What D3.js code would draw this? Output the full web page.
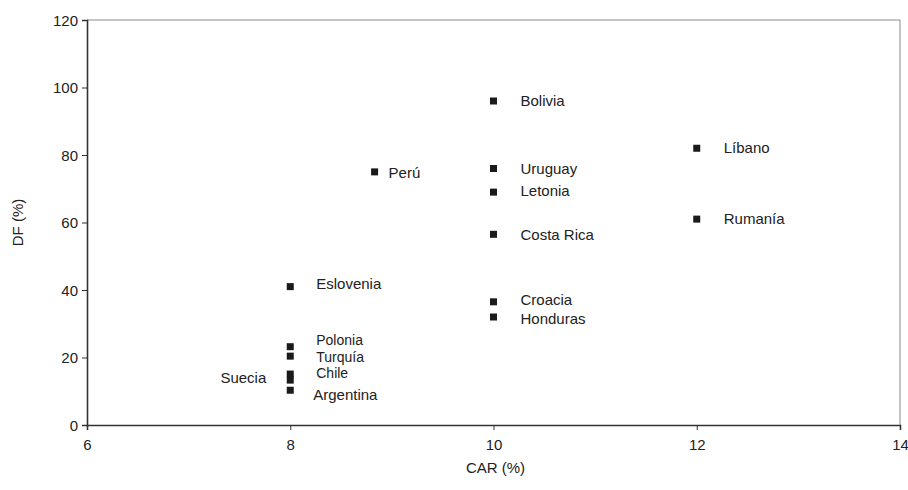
<!DOCTYPE html>
<html>
<head>
<meta charset="utf-8">
<script src="https://cdn.jsdelivr.net/npm/d3@7"></script>
<style>
  html, body { margin: 0; padding: 0; background: #fff; }
  svg { display: block; font-family: "Liberation Sans", Arial, sans-serif; }
</style>
</head>
<body>
<svg id="chart" width="908" height="490"></svg>
<script>
// ---- Data ----
const countries = ["Bolivia", "Líbano", "Perú", "Uruguay", "Letonia", "Costa Rica", "Rumanía",
  "Eslovenia", "Croacia", "Honduras", "Polonia", "Turquía", "Chile", "Suecia", "Argentina"];
const carValues = [10, 12, 8.83, 10, 10, 10, 12, 8, 10, 10, 8, 8, 8, 8, 8];
const dfValues  = [96, 82, 75, 76, 69, 56.5, 61, 41, 36.5, 32, 23.2, 20.4, 15.1, 13.3, 10.3];
const xTicks = [6, 8, 10, 12, 14];
const yTicks = [0, 20, 40, 60, 80, 100, 120];
const xTitle = "CAR (%)";
const yTitle = "DF (%)";

// ---- Label layout (pixel offsets from marker) ----
const labelDx = [27, 27, 14, 27, 27, 27, 27, 26, 27, 27, 26, 26, 26, -24, 23];
const labelDy = [0, -1, 1, 0, -1, 0, 0, -3, -2, 2, -7, 1, -1, -2, 5];
const compactLabels = ["Polonia", "Turquía", "Chile"];

// ---- Layout ----
const svg = d3.select("#chart");
const mLeft = 87, mRight = 900, mTop = 20, mBottom = 425;

const x = d3.scaleLinear().domain([6, 14]).range([mLeft, mRight]);
const y = d3.scaleLinear().domain([0, 120]).range([mBottom, mTop]);

// Frame top/right
svg.append("line").attr("x1", mLeft).attr("x2", mRight).attr("y1", mTop).attr("y2", mTop)
  .attr("stroke", "#8a8a8a").attr("stroke-width", 1);
svg.append("line").attr("x1", mRight).attr("x2", mRight).attr("y1", mTop).attr("y2", mBottom)
  .attr("stroke", "#8a8a8a").attr("stroke-width", 1);

// Axes
const xAxis = d3.axisBottom(x).tickValues(xTicks).tickFormat(d3.format("d")).tickSize(5).tickPadding(6);
const yAxis = d3.axisLeft(y).tickValues(yTicks).tickFormat(d3.format("d")).tickSize(5).tickPadding(4);

const gx = svg.append("g").attr("transform", `translate(0,${mBottom})`).call(xAxis);
const gy = svg.append("g").attr("transform", `translate(${mLeft},0)`).call(yAxis);

[gx, gy].forEach(g => {
  g.select(".domain").attr("stroke", "#333").attr("stroke-width", 1.6);
  g.selectAll(".tick line").attr("stroke", "#333").attr("stroke-width", 1);
  g.selectAll(".tick text").attr("fill", "#222").style("font-size", "15px")
    .style("font-family", "'Liberation Sans', Arial, sans-serif");
});
gx.selectAll(".tick text").attr("dy", "0.95em");
gy.selectAll(".tick text").attr("dy", "0.35em");

// Axis titles
svg.append("text").attr("x", (mLeft + mRight) / 2 + 2).attr("y", 473)
  .attr("text-anchor", "middle").attr("fill", "#222").style("font-size", "15px").text(xTitle);
svg.append("text").attr("transform", `translate(23,${(mTop + mBottom) / 2}) rotate(-90)`)
  .attr("text-anchor", "middle").attr("fill", "#222").style("font-size", "15px").text(yTitle);

// Points
const data = countries.map((c, i) => ({ name: c, car: carValues[i], df: dfValues[i], dx: labelDx[i], dy: labelDy[i] }));
const ms = 7;
svg.append("g").selectAll("rect").data(data).join("rect")
  .attr("x", d => x(d.car) - ms / 2)
  .attr("y", d => y(d.df) - ms / 2)
  .attr("width", ms).attr("height", ms)
  .attr("fill", "#1a1a1a");

svg.append("g").selectAll("text").data(data).join("text")
  .attr("x", d => x(d.car) + d.dx)
  .attr("y", d => y(d.df) + d.dy)
  .attr("dy", "0.35em")
  .attr("text-anchor", d => d.dx < 0 ? "end" : "start")
  .attr("fill", "#222")
  .style("font-size", d => compactLabels.includes(d.name) ? "14px" : "15px")
  .text(d => d.name);
</script>
</body>
</html>
